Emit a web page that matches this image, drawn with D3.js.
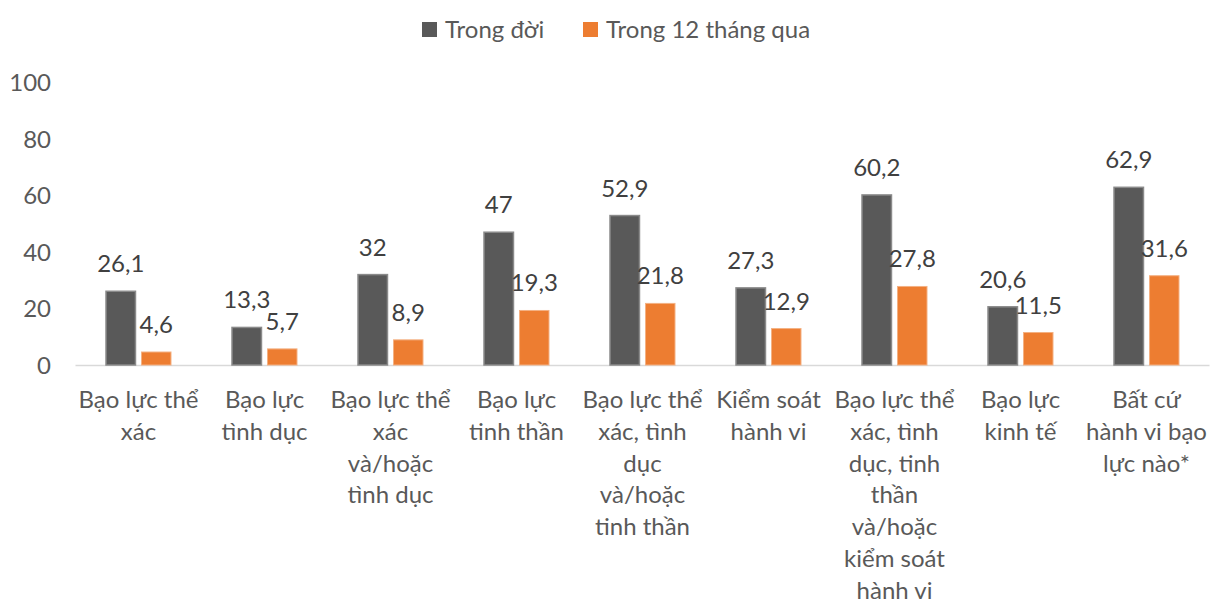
<!DOCTYPE html>
<html>
<head>
<meta charset="utf-8">
<script src="https://cdn.jsdelivr.net/npm/d3@7"></script>
<style>
  body { margin: 0; background: #ffffff; }
  text { font-family: Lato, "Open Sans", sans-serif; }
</style>
</head>
<body>
<div id="chart"></div>
<script>
// data
var categories = [
    ["Bạo lực thể", "xác"],
    ["Bạo lực", "tình dục"],
    ["Bạo lực thể", "xác", "và/hoặc", "tình dục"],
    ["Bạo lực", "tinh thần"],
    ["Bạo lực thể", "xác, tình", "dục", "và/hoặc", "tinh thần"],
    ["Kiểm soát", "hành vi"],
    ["Bạo lực thể", "xác, tình", "dục, tinh", "thần", "và/hoặc", "kiểm soát", "hành vi"],
    ["Bạo lực", "kinh tế"],
    ["Bất cứ", "hành vi bạo", "lực nào*"]
];
var seriesNames = ["Trong đời", "Trong 12 tháng qua"];
var lifetime = [26.1, 13.3, 32, 47, 52.9, 27.3, 60.2, 20.6, 62.9];
var last12 = [4.6, 5.7, 8.9, 19.3, 21.8, 12.9, 27.8, 11.5, 31.6];
var yTicks = [0, 20, 40, 60, 80, 100];

var fills = ["#595959", "#ED7D31"];
var strokes = ["#8a8a8a", "#F4B183"];
var textColor = "#595959", labelColor = "#404040";
var fontSize = "24px";

var width = 1212, height = 605;
var svg = d3.select("#chart")
    .append("svg")
    .attr("width", width)
    .attr("height", height);

var x0 = d3.scaleBand()
    .domain(d3.range(categories.length))
    .range([75.5, 1209.5])
    .padding(0);

var x1 = d3.scaleBand()
    .domain([0, 1])
    .range([30.5, 95.5])
    .paddingInner(0.17)
    .paddingOuter(0);

var y = d3.scaleLinear()
    .domain([0, 100])
    .range([365, 82.5]);

// y tick labels, no axis line
svg.append("g")
    .selectAll("text")
    .data(yTicks)
    .enter()
    .append("text")
    .attr("x", 51)
    .attr("y", d => y(d))
    .attr("dy", "0.36em")
    .attr("text-anchor", "end")
    .attr("font-size", fontSize)
    .attr("fill", textColor)
    .text(d => d);

// baseline
svg.append("line")
    .attr("x1", x0.range()[0])
    .attr("x2", x0.range()[1])
    .attr("y1", y(0) + 0.5)
    .attr("y2", y(0) + 0.5)
    .attr("stroke", "#d9d9d9")
    .attr("stroke-width", 1.5);

var series = [lifetime, last12];
series.forEach(function (vals, s) {
    var g = svg.append("g");
    g.selectAll("rect")
        .data(vals)
        .enter()
        .append("rect")
        .attr("x", (d, i) => x0(i) + x1(s))
        .attr("y", d => y(d))
        .attr("width", x1.bandwidth())
        .attr("height", d => y(0) - y(d))
        .attr("fill", fills[s])
        .attr("stroke", strokes[s])
        .attr("stroke-width", s === 0 ? 1.5 : 1);
    g.selectAll("text")
        .data(vals)
        .enter()
        .append("text")
        .attr("x", (d, i) => x0(i) + x1(s) + x1.bandwidth() / 2)
        .attr("y", d => y(d) - 19)
        .attr("text-anchor", "middle")
        .attr("font-size", fontSize)
        .attr("fill", labelColor)
        .text(d => String(d).replace(".", ","));
});

// category labels
var catG = svg.append("g");
categories.forEach(function (lines, i) {
    var t = catG.append("text")
        .attr("text-anchor", "middle")
        .attr("font-size", fontSize)
        .attr("fill", textColor);
    lines.forEach(function (ln, k) {
        t.append("tspan")
            .attr("x", x0(i) + x0.bandwidth() / 2)
            .attr("y", 408 + k * 31.75)
            .text(ln);
    });
});

// legend
var legendX = [422, 583];
var legend = svg.append("g");
seriesNames.forEach(function (name, s) {
    legend.append("rect")
        .attr("x", legendX[s])
        .attr("y", 22)
        .attr("width", 15)
        .attr("height", 15)
        .attr("fill", fills[s]);
    legend.append("text")
        .attr("x", legendX[s] + 23)
        .attr("y", 38)
        .attr("font-size", fontSize)
        .attr("fill", textColor)
        .text(name);
});
</script>
</body>
</html>
